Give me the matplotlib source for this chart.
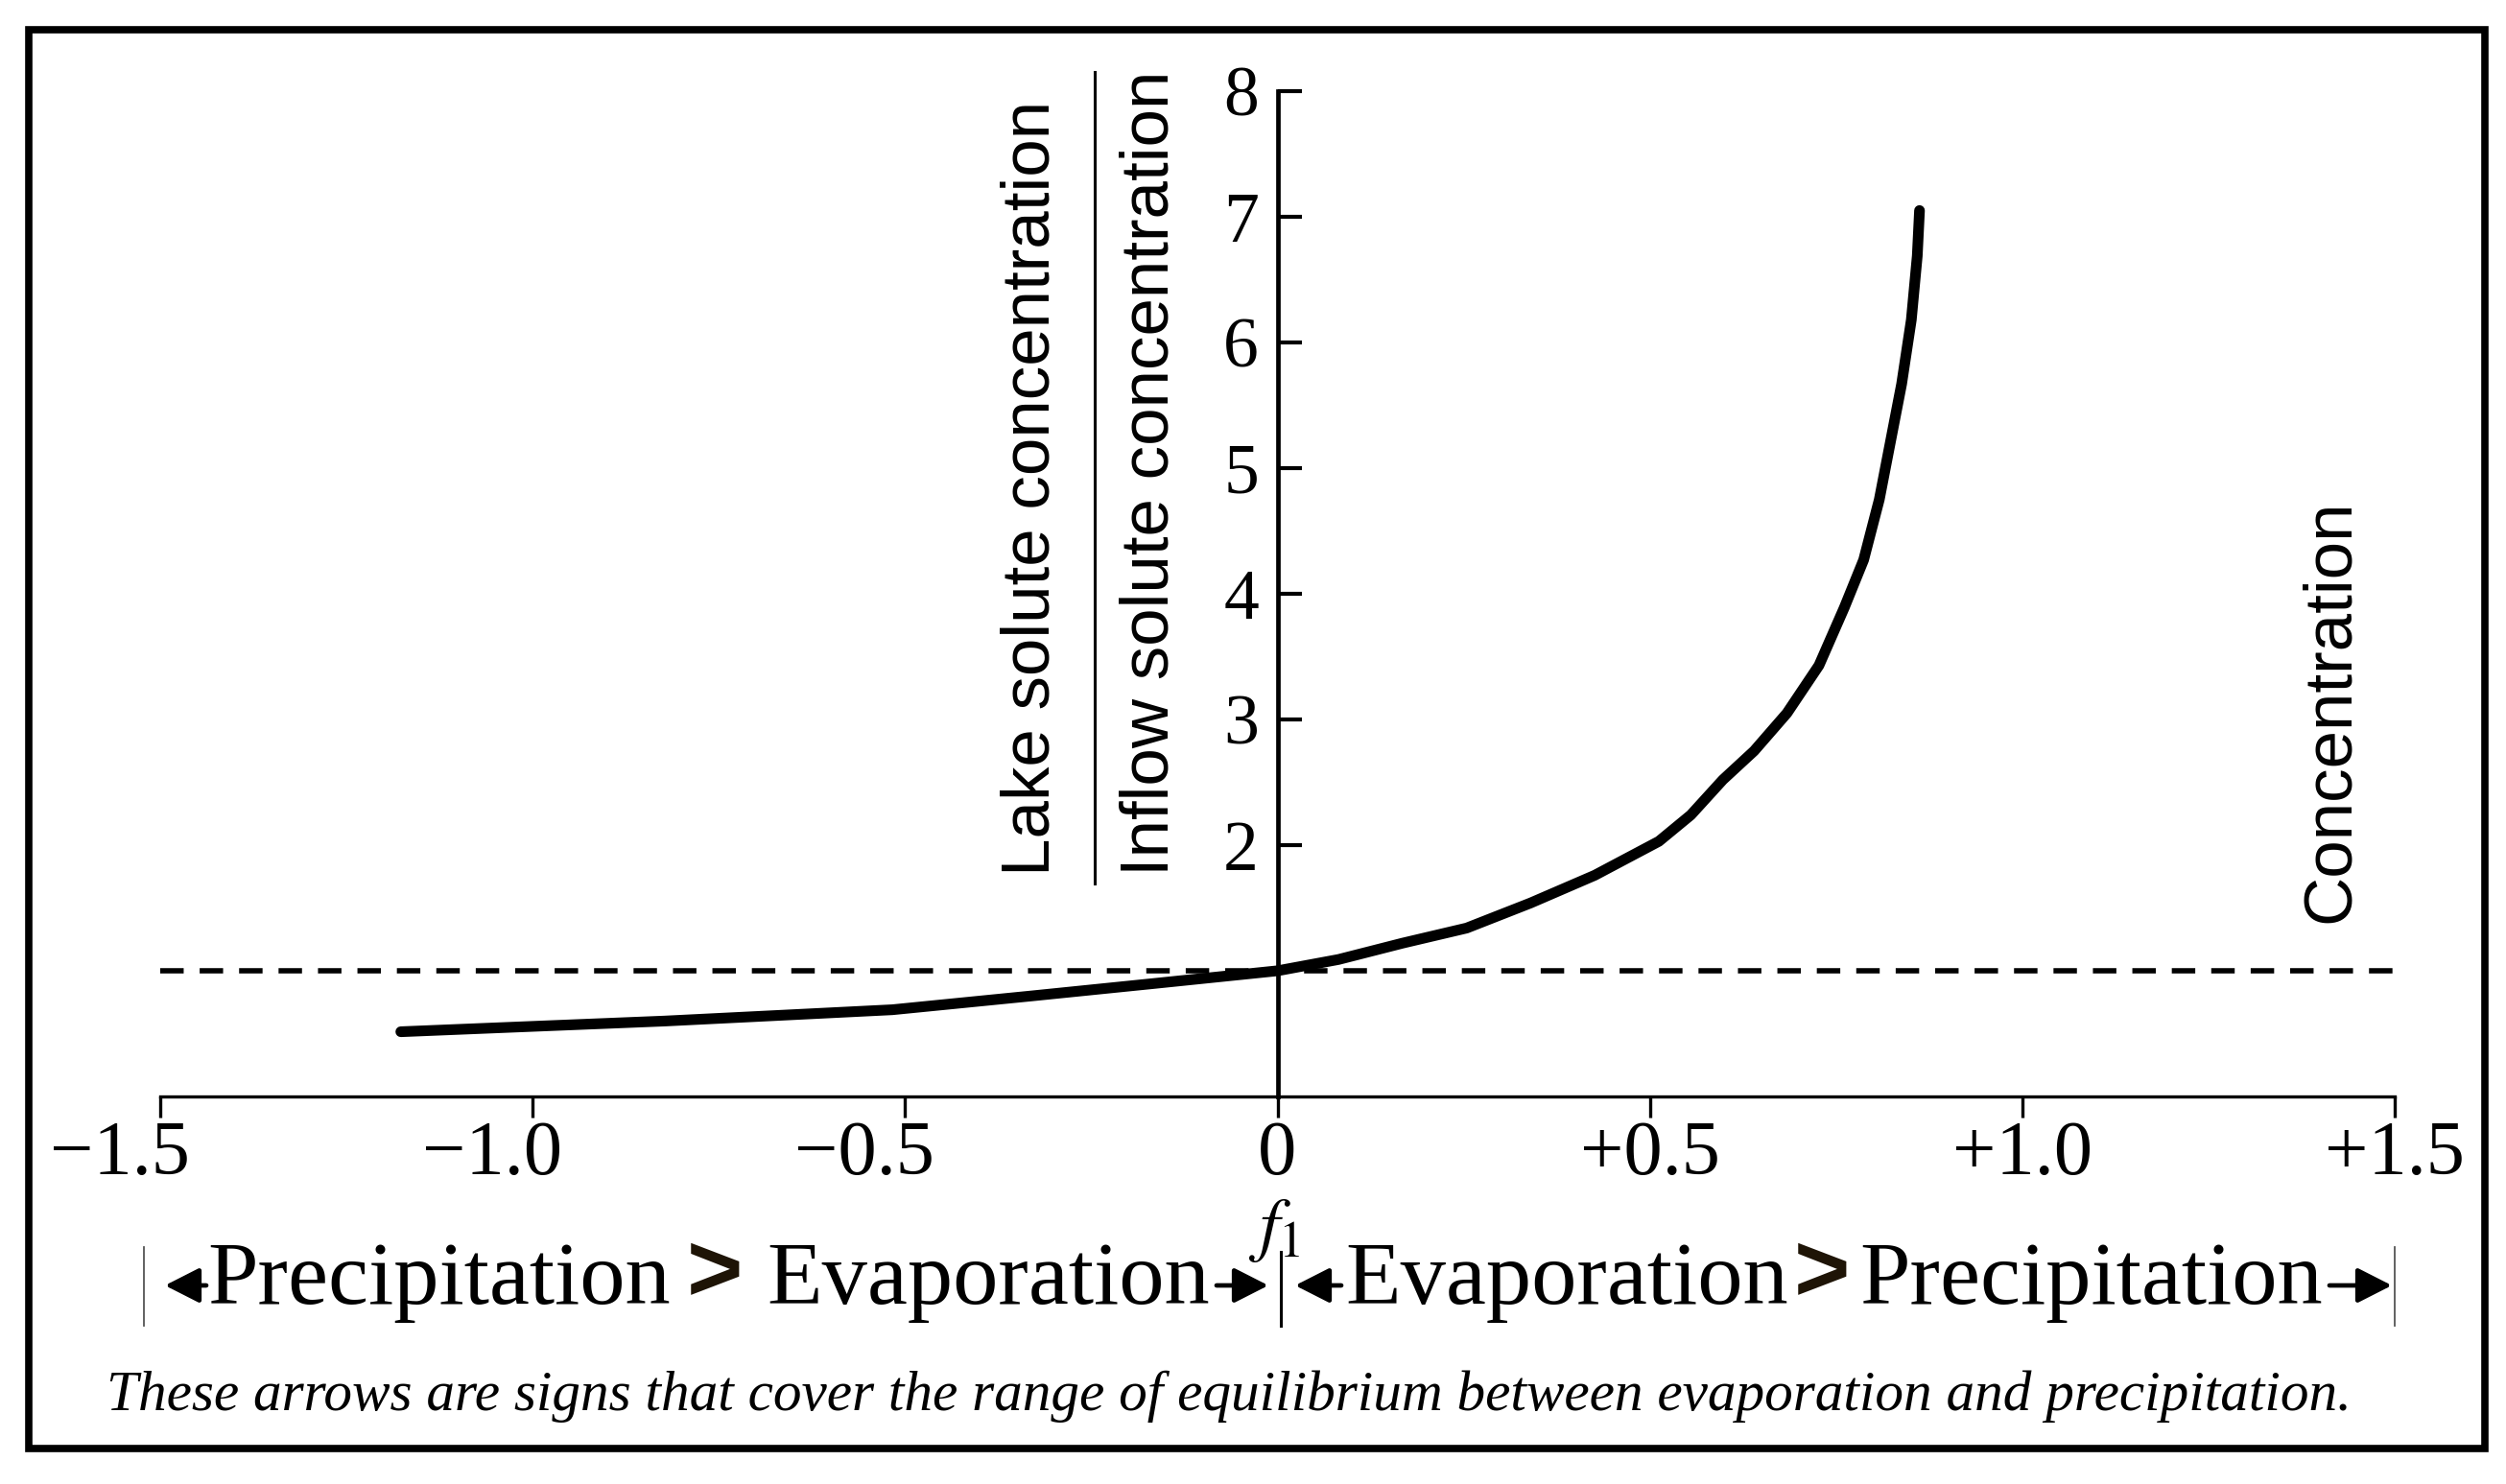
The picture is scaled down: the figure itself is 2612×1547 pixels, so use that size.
import matplotlib
matplotlib.use("Agg")
import matplotlib.pyplot as plt
from matplotlib.patches import Rectangle
from matplotlib.transforms import ScaledTranslation

# values
f1 = [-1.177, -1.032, -0.823, -0.517, -0.33, -0.164, 0.0, 0.082, 0.168, 0.254,
      0.340, 0.426, 0.512, 0.555, 0.598, 0.640, 0.684, 0.727, 0.761, 0.787,
      0.808, 0.838, 0.851, 0.859, 0.862]
ratio = [0.515, 0.55, 0.60, 0.69, 0.80, 0.90, 1.0, 1.09, 1.22, 1.34,
         1.54, 1.76, 2.03, 2.24, 2.52, 2.75, 3.05, 3.43, 3.89, 4.27,
         4.75, 5.67, 6.18, 6.69, 7.05]
ref_x = [-1.5, 1.5]
ref_y = [1.0, 1.0]

x_ticks = [-1.5, -1.0, -0.5, 0, 0.5, 1.0, 1.5]
x_tick_labels = ["\u22121.5", "\u22121.0", "\u22120.5", "0", "+0.5", "+1.0", "+1.5"]
y_ticks = [2, 3, 4, 5, 6, 7, 8]

caption = ("These arrows are signs that cover the range of equilibrium "
           "between evaporation and precipitation.")

plt.rcParams["font.family"] = ["Liberation Serif", "DejaVu Serif"]
plt.rcParams["mathtext.fontset"] = "stix"

W, H = 2612, 1547
fig = plt.figure(figsize=(W / 100, H / 100), dpi=100)
fig.patch.set_facecolor("white")

ax = fig.add_axes([167 / W, 1 - 1143 / H, (2496 - 167) / W, (1143 - 95) / H])
ax.set_facecolor("none")
ax.plot(ref_x, ref_y, color="black", lw=4.0, dashes=(4.4, 3.0))
ax.plot(f1, ratio, color="black", lw=8, solid_capstyle="round", solid_joinstyle="round")

ax.set_xlim(-1.5, 1.5)
ax.set_ylim(0, 8)
ax.spines["top"].set_visible(False)
ax.spines["right"].set_visible(False)
ax.spines["left"].set_position(("data", 0))
ax.spines["left"].set_linewidth(3.4)
ax.spines["bottom"].set_linewidth(2.4)
ax.set_xticks(x_ticks)
ax.set_xticklabels(x_tick_labels)
ax.set_yticks(y_ticks)
ax.tick_params(axis="x", direction="out", length=16, width=2.4, pad=2, labelsize=58)
ax.tick_params(axis="y", direction="in", length=18, width=3, pad=14, labelsize=53)

# negative labels sit a little left of their ticks in the original
shift = ScaledTranslation(-0.42, 0, fig.dpi_scale_trans)
for lbl in ax.get_xticklabels():
    if lbl.get_text().startswith("\u2212"):
        lbl.set_transform(lbl.get_transform() + shift)

# overlay in pixel coordinates for labels, arrows and frame
ov = fig.add_axes([0, 0, 1, 1])
ov.set_xlim(0, W)
ov.set_ylim(H, 0)
ov.axis("off")
ov.patch.set_visible(False)

sans = "Liberation Sans"
ov.text(1075, 913, "Lake solute concentration", rotation=90, ha="center", va="bottom",
        family=sans, fontsize=51)
ov.text(1200, 913, "Inflow solute concentration", rotation=90, ha="center", va="bottom",
        family=sans, fontsize=51)
ov.plot([1141, 1141], [75, 921], color="black", lw=2.2)
ov.text(2430, 962, "Concentration", rotation=90, ha="center", va="bottom",
        family=sans, fontsize=51)

ov.text(1328, 1283, "$f_1$", ha="center", va="center", fontsize=54)

# arrow row
base = 1359
for word, xc in [("Precipitation", 458), ("Evaporation", 1030),
                 ("Evaporation", 1633), ("Precipitation", 2180)]:
    ov.text(xc, base, word, ha="center", va="baseline", fontsize=68)
for xc in [745, 1899]:
    ov.text(xc, 1330, ">", ha="center", va="center", fontsize=72, fontweight="bold",
            family=sans, color="#1e1406")

astyle = dict(arrowstyle="-|>,head_length=0.55,head_width=0.28", lw=3.4, color="black",
              mutation_scale=40, shrinkA=0, shrinkB=0)
ay = 1340
for x0, x1 in [(215, 172), (1268, 1322), (1398, 1350), (2428, 2493)]:
    ov.annotate("", xy=(x1, ay), xytext=(x0, ay), arrowprops=astyle)

ov.plot([150, 150], [1300, 1382], color="#555555", lw=1.3)
ov.plot([1335, 1335], [1305, 1382], color="black", lw=2.2)
ov.plot([2496, 2496], [1300, 1382], color="#555555", lw=1.3)

ov.text(1281, 1470, caption, ha="center", va="baseline", style="italic", fontsize=42.7)

ov.add_patch(Rectangle((30, 31), 2560, 1479, fill=False, lw=5.5, ec="black"))

fig.savefig("out.png", dpi=100)
